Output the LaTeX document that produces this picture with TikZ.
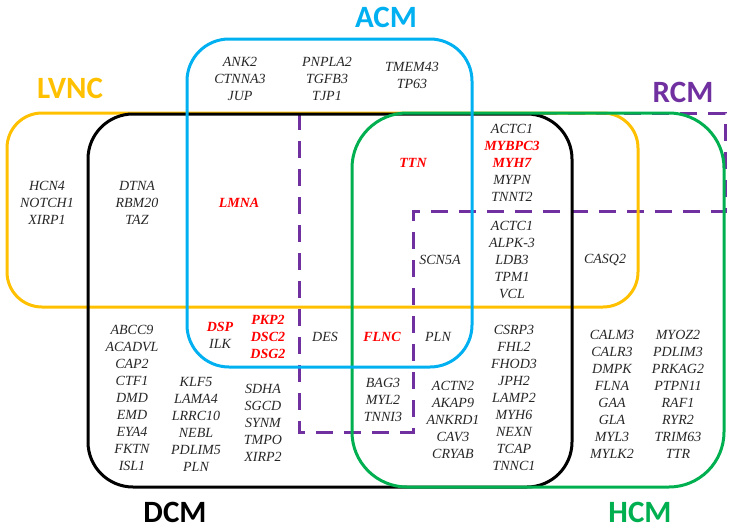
\documentclass[tikz,border=0pt]{standalone}
\usepackage{fontspec}
\setmainfont{Liberation Serif}
\newfontfamily\setfont{Carlito}
\usetikzlibrary{arrows.meta}

\definecolor{lvncyellow}{HTML}{FFC000}
\definecolor{acmblue}{HTML}{00B0F0}
\definecolor{hcmgreen}{HTML}{00B050}
\definecolor{rcmpurple}{HTML}{7030A0}
\definecolor{genetext}{HTML}{262626}
\newcommand{\keyg}[1]{\textcolor{red}{\bfseries #1}}

\begin{document}
\begin{tikzpicture}[x=1pt,y=-1pt,
    gene/.style={font=\fontsize{14}{17}\selectfont\itshape, align=center,
                 text=genetext, inner sep=0pt},
    keygene/.style={gene, text=red, font=\fontsize{14}{17}\selectfont\itshape\bfseries},
    setname/.style={font=\setfont\bfseries\fontsize{31}{31}\selectfont},
    setbox/.style={line width=3pt, rounded corners=#1}]
\useasboundingbox (0,0) rectangle (734,530);

% RCM, dashed outline
\draw[rcmpurple, line width=3pt, dash pattern=on 17pt off 11pt]
    (299,113) -- (299,432) -- (413,432) -- (413,211) -- (725,211) -- (725,113) -- cycle;

% the four solid sets
\draw[setbox=35pt, lvncyellow] (7,113) rectangle (638,307);
\draw[setbox=45pt, black] (88,114) rectangle (572,487);
\draw[setbox=55pt, hcmgreen] (352,113) rectangle (724,487);
\draw[setbox=42pt, acmblue] (187,39) rectangle (472,367);

% set names
\node[setname, text=lvncyellow] (lvnc) at (70,88) {LVNC};
\node[setname, text=acmblue] (acm) at (386,17) {ACM};
\node[setname, text=rcmpurple] (rcm) at (683,92) {RCM};
\node[setname, text=black] (dcm) at (175,512) {DCM};
\node[setname, text=hcmgreen] (hcm) at (640,512) {HCM};

% genes
\node[gene] (acm1) at (240,79) {ANK2\\CTNNA3\\JUP};
\node[gene] (acm2) at (327,79) {PNPLA2\\TGFB3\\TJP1};
\node[gene] (acm3) at (412,75) {TMEM43\\TP63};
\node[gene] (lvnc1) at (47,203) {HCN4\\NOTCH1\\XIRP1};
\node[gene] (lvdc) at (137,203) {DTNA\\RBM20\\TAZ};
\node[keygene] (lmna) at (239,203) {LMNA};
\node[keygene] (ttn) at (413,163) {TTN};
\node[gene] (sarc1) at (512,163) {ACTC1\\\keyg{MYBPC3}\\\keyg{MYH7}\\MYPN\\TNNT2};
\node[gene] (sarc2) at (512,260) {ACTC1\\ALPK-3\\LDB3\\TPM1\\VCL};
\node[gene] (scn) at (440,260) {SCN5A};
\node[gene] (casq) at (605,260) {CASQ2};
\node[gene] (dsp) at (220,335) {\keyg{DSP}\\ILK};
\node[keygene] (pkp) at (268,337) {PKP2\\DSC2\\DSG2};
\node[gene] (des) at (325,337) {DES};
\node[keygene] (flnc) at (382,337) {FLNC};
\node[gene] (pln) at (438,337) {PLN};
\node[gene] (dcm1) at (132,398) {ABCC9\\ACADVL\\CAP2\\CTF1\\DMD\\EMD\\EYA4\\FKTN\\ISL1};
\node[gene] (dcm2) at (196,424) {KLF5\\LAMA4\\LRRC10\\NEBL\\PDLIM5\\PLN};
\node[gene] (dcm3) at (263,423) {SDHA\\SGCD\\SYNM\\TMPO\\XIRP2};
\node[gene] (rcm1) at (383,400) {BAG3\\MYL2\\TNNI3};
\node[gene] (dh1) at (453,420) {ACTN2\\AKAP9\\ANKRD1\\CAV3\\CRYAB};
\node[gene] (dh2) at (514,398) {CSRP3\\FHL2\\FHOD3\\JPH2\\LAMP2\\MYH6\\NEXN\\TCAP\\TNNC1};
\node[gene] (hcm1) at (612,394) {CALM3\\CALR3\\DMPK\\FLNA\\GAA\\GLA\\MYL3\\MYLK2};
\node[gene] (hcm2) at (678,394) {MYOZ2\\PDLIM3\\PRKAG2\\PTPN11\\RAF1\\RYR2\\TRIM63\\TTR};
\end{tikzpicture}
\end{document}
